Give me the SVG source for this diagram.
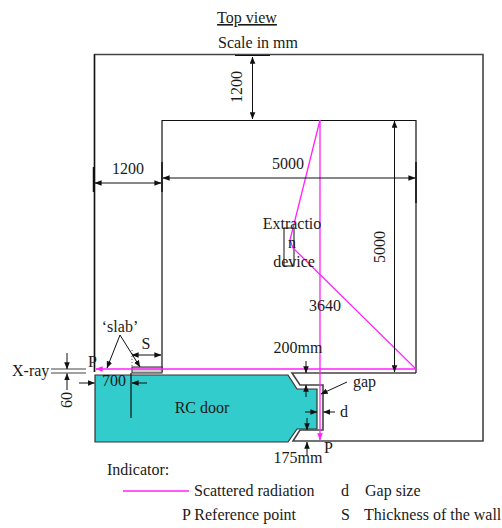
<svg xmlns="http://www.w3.org/2000/svg" width="502" height="528" viewBox="0 0 502 528">
<style>
text{font-family:"Liberation Serif","Times New Roman",serif;font-size:16px;fill:#1a1a1a}
.m{text-anchor:middle}
.l{fill:none;stroke:#111;stroke-width:1.2}
.g{fill:none;stroke:#444;stroke-width:1.6}
.d{fill:none;stroke:#111;stroke-width:1;marker-end:url(#a)}
.b{fill:none;stroke:#111;stroke-width:1;marker-start:url(#a);marker-end:url(#a)}
.p{fill:none;stroke:#ff22ff;stroke-width:1.3}
</style>
<defs>
<marker id="a" viewBox="0 0 10 8" refX="9.5" refY="4" markerUnits="userSpaceOnUse" markerWidth="7" markerHeight="6" orient="auto-start-reverse"><path d="M0 0L10 4L0 8z" fill="#111"/></marker>
<marker id="m" viewBox="0 0 10 8" refX="9.5" refY="4" markerUnits="userSpaceOnUse" markerWidth="7" markerHeight="6" orient="auto"><path d="M0 0L10 4L0 8z" fill="#ff22ff"/></marker>
</defs>
<rect width="502" height="528" fill="#fff"/>
<g id="door"><path d="M95 375H288L297 389H317V429H297L288 442H95Z" fill="#33cccc" stroke="#333" stroke-width="1.2"/><text class="m" x="202" y="413">RC door</text></g>
<g id="walls">
<path class="g" d="M94.500 372V54.500H483V441H293L300 430H323V385H300L292 373H416"/>
<path class="l" d="M94.500 54.500V372M162 372V120.500H416V373"/>
<path class="l" d="M235 55.500H270M235 120.500H270"/>
<path d="M93.500 167V192M162 162V192M416 162V203" stroke="#111" stroke-width="1.500" fill="none"/>
<rect x="132" y="367" width="30" height="6" fill="#ccc" stroke="#222"/>
<rect x="284" y="228" width="10" height="38" fill="none" stroke="#111"/>
<path class="l" d="M131 373V418"/>
<path d="M132 350V367" stroke="#555" stroke-dasharray="1 2" fill="none"/>
</g>
<g id="connectors">
<path class="p" d="M320 120L290 240L293 248L416 369H96" marker-end="url(#m)"/>
<path class="p" d="M320 120V440" marker-end="url(#m)"/>
<path class="p" d="M123 491H189"/>
<path class="b" d="M252.500 57V119"/>
<path class="b" d="M95 183H161"/>
<path class="b" d="M163 178H415"/>
<path class="b" d="M394.500 121V372"/>
<path class="b" d="M132 355H161"/>
<path d="M51 369H86M51 373H86" stroke="#444" fill="none"/>
<path class="d" d="M67 353V369"/>
<path class="d" d="M67 390V373.500"/>
<path class="d" d="M79 383H94.500"/>
<path class="d" d="M147 383H132"/>
<path class="d" d="M120 335L107 368"/>
<path class="d" d="M120 335L140 367"/>
<path class="d" d="M306 361V373"/>
<path class="d" d="M306 397V385"/>
<path class="d" d="M307 418V430"/>
<path class="d" d="M307 455V442"/>
<path class="d" d="M305 412H317"/>
<path class="d" d="M335 412H323.500"/>
<path class="d" d="M347 382L321 394"/>
</g>
<g id="labels">
<text class="m" x="247" y="23" text-decoration="underline">Top view</text>
<text class="m" x="258" y="48">Scale in mm</text>
<text class="m" transform="translate(242 87) rotate(-90)">1200</text>
<text class="m" x="128" y="174">1200</text>
<text class="m" x="288" y="169">5000</text>
<text class="m" transform="translate(385 247) rotate(-90)">5000</text>
<text class="m" x="292" y="229">Extractio</text>
<text class="m" x="292" y="248">n</text>
<text class="m" x="294" y="267">device</text>
<text class="m" x="325" y="311">3640</text>
<text class="m" x="120" y="332">‘slab’</text>
<text class="m" x="146" y="349">S</text>
<text x="88" y="367">P</text>
<text x="12" y="376">X-ray</text>
<text class="m" transform="translate(72 400) rotate(-90)">60</text>
<text class="m" x="114" y="386">700</text>
<text class="m" x="298" y="353">200mm</text>
<text x="353" y="387">gap</text>
<text x="340" y="417">d</text>
<text class="m" x="298" y="463">175mm</text>
<text x="324" y="453">P</text>
<text x="107" y="475">Indicator:</text>
<text x="194" y="496">Scattered radiation</text>
<text x="341" y="496">d</text>
<text x="365" y="496">Gap size</text>
<text x="182" y="520">P Reference point</text>
<text x="341" y="520">S</text>
<text x="364" y="520">Thickness of the wall</text>
</g>
</svg>
